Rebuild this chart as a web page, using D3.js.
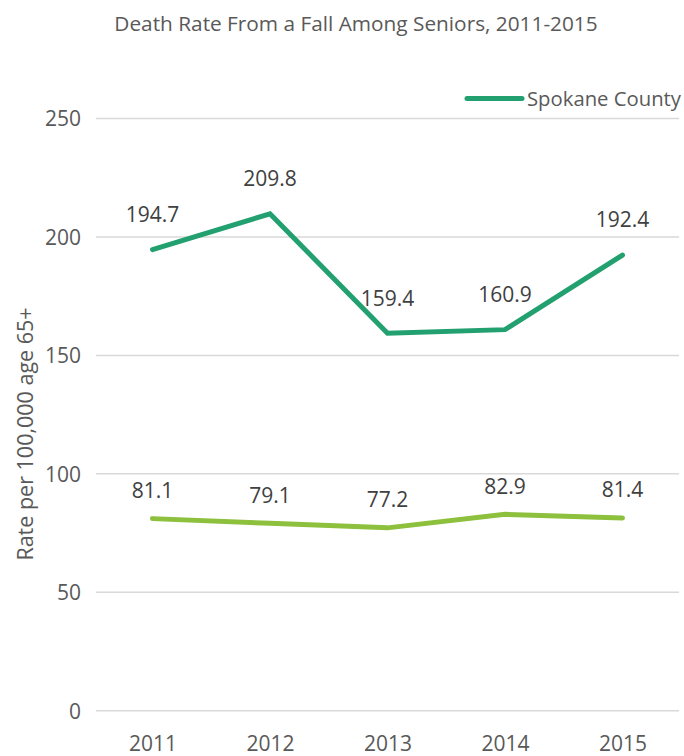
<!DOCTYPE html>
<html>
<head>
<meta charset="utf-8">
<script src="https://cdn.jsdelivr.net/npm/d3@7"></script>
<style>
  html, body { margin: 0; padding: 0; background: #fff; }
  svg { display: block; font-family: "Open Sans", sans-serif; }
</style>
</head>
<body>
<svg id="chart" width="684" height="756"></svg>
<script>
const years = ["2011", "2012", "2013", "2014", "2015"];
const spokaneValues = [194.7, 209.8, 159.4, 160.9, 192.4];
const stateValues = [81.1, 79.1, 77.2, 82.9, 81.4];
const yTicks = [0, 50, 100, 150, 200, 250];
const titleText = "Death Rate From a Fall Among Seniors, 2011-2015";
const yAxisTitle = "Rate per 100,000 age 65+";
const legendLabel = "Spokane County";

(function () {
const series = [
  { name: "Spokane County", values: spokaneValues, color: "#22a06f", labelOffset: 35 },
  { name: "Washington State", values: stateValues, color: "#8cc03d", labelOffset: 28 }
];

const svg = d3.select("#chart");
const plotLeft = 96, plotRight = 679, plotTop = 118.6, plotBottom = 710.7;

const x = d3.scalePoint().domain(years).range([152.5, 622.5]);
const y = d3.scaleLinear().domain([0, 250]).range([plotBottom, plotTop]);
const cx = d => x(d);

// title
svg.append("text")
  .attr("x", 356).attr("y", 31)
  .attr("text-anchor", "middle")
  .attr("font-size", 20.8)
  .attr("fill", "#595959")
  .text(titleText);

// gridlines
svg.append("g").selectAll("line").data(yTicks).join("line")
  .attr("x1", plotLeft).attr("x2", plotRight)
  .attr("y1", d => y(d)).attr("y2", d => y(d))
  .attr("stroke", "#d9d9d9").attr("stroke-width", 1.5);

// y axis labels
const yAxis = d3.axisLeft(y).tickValues(yTicks).tickSize(0).tickPadding(0);
const gy = svg.append("g").attr("transform", "translate(81,0)").call(yAxis);
gy.select(".domain").remove();
gy.selectAll("text").attr("font-size", 21).attr("fill", "#595959")
  .attr("font-family", "Open Sans, sans-serif").attr("dy", "0.35em");

// x axis labels
const xAxis = d3.axisBottom(x).tickSize(0).tickPadding(0);
const gx = svg.append("g").attr("transform", "translate(0,744)").call(xAxis);
gx.select(".domain").remove();
gx.selectAll("text").attr("font-size", 21).attr("fill", "#595959")
  .attr("font-family", "Open Sans, sans-serif").attr("dy", "0.35em");

// y axis title
svg.append("text")
  .attr("transform", "translate(25,434) rotate(-90)")
  .attr("text-anchor", "middle").attr("dy", "0.35em")
  .attr("font-size", 21.5).attr("fill", "#595959")
  .text(yAxisTitle);

// lines
const line = d3.line().x((d, i) => cx(years[i])).y(d => y(d));
series.forEach(s => {
  svg.append("path").datum(s.values)
    .attr("d", line)
    .attr("fill", "none")
    .attr("stroke", s.color).attr("stroke-width", 5)
    .attr("stroke-linecap", "round").attr("stroke-linejoin", "miter");
  svg.append("g").selectAll("text").data(s.values).join("text")
    .attr("x", (d, i) => cx(years[i]))
    .attr("y", d => y(d) - s.labelOffset)
    .attr("dy", "0.35em")
    .attr("text-anchor", "middle")
    .attr("font-size", 21).attr("fill", "#404040")
    .text(d => d.toFixed(1));
});

// legend
const lg = svg.append("g");
lg.append("line").attr("x1", 467).attr("x2", 522).attr("y1", 98.4).attr("y2", 98.4)
  .attr("stroke", series[0].color).attr("stroke-width", 5).attr("stroke-linecap", "round");
lg.append("text").attr("x", 527).attr("y", 98.4).attr("dy", "0.35em")
  .attr("font-size", 20.3).attr("fill", "#595959").text(legendLabel);
})();
</script>
</body>
</html>
